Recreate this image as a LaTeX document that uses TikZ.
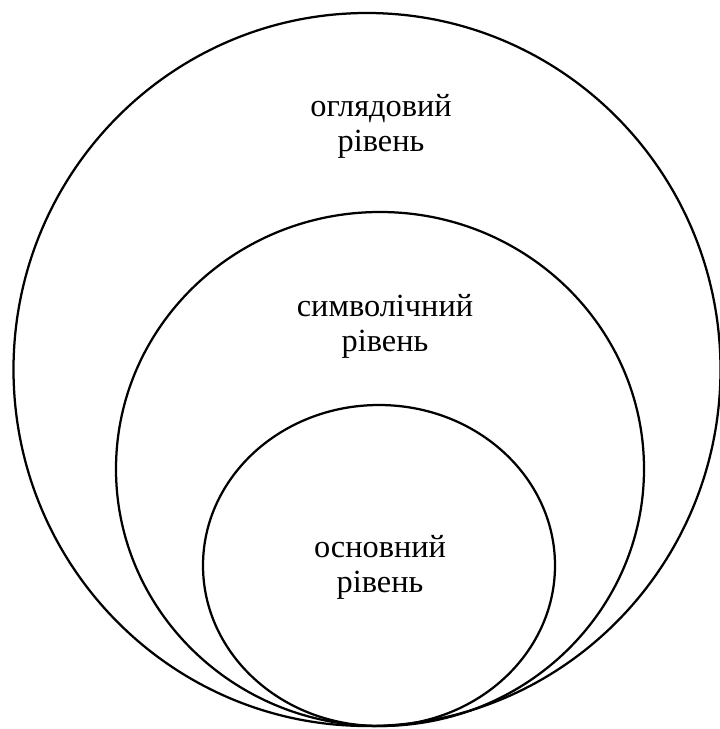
\documentclass[tikz,border=0pt]{standalone}
\usepackage{fontspec}
\setmainfont{Liberation Serif}

\tikzset{
  ring/.style={draw=black, line width=1.6pt},
  leveltext/.style={align=center, font=\fontsize{23}{25}\selectfont, inner sep=0pt}
}

\begin{document}
\begin{tikzpicture}[x=0.025cm, y=-0.025cm]

  \useasboundingbox (0,0) rectangle (720,729);

  %%%%%%%%%%%%%%%%%%%%%%%%%%%%%%%%%%%%%%%%%%%%%%%%%
  % Rings
  \draw[ring] (367,369.5) ellipse [x radius=353.5, y radius=356.5];
  \draw[ring] (380,469) ellipse [x radius=264, y radius=257];
  \draw[ring] (379,565.5) ellipse [x radius=176, y radius=160.5];

  %%%%%%%%%%%%%%%%%%%%%%%%%%%%%%%%%%%%%%%%%%%%%%%%%
  % Labels
  \node[leveltext] (outer) at (381,126) {оглядовий\\рівень};
  \node[leveltext] (middle) at (385,326) {символічний\\рівень};
  \node[leveltext] (inner) at (380,567) {основний\\рівень};

\end{tikzpicture}
\end{document}
